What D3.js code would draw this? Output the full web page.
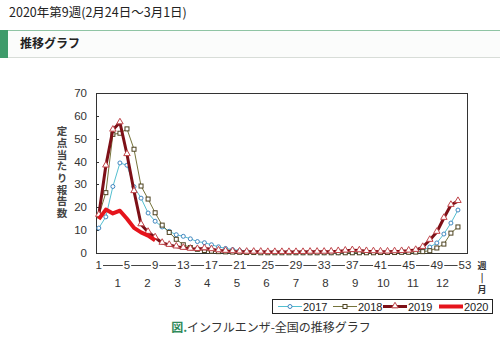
<!DOCTYPE html>
<html>
<head>
<meta charset="utf-8">
<script src="https://cdn.jsdelivr.net/npm/d3@7"></script>
<style>
  body { margin: 0; background: #fff; }
  svg { display: block; }
  text { font-family: "Liberation Sans", Arial, sans-serif; }
  .jp { font-family: "Noto Sans CJK JP", sans-serif; }
</style>
</head>
<body>
<div id="chart"></div>
<script>
// weekly values per year (index 0 = week 1)
var s2017 = [10.9, 15.8, 29.1, 39.4, 38.4, 29.0, 24.0, 17.5, 13.9, 11.4,
             9.5, 8.0, 7.3, 6.2, 5.0, 4.5, 3.6, 2.7, 2.0, 1.5,
             1.1, 0.8, 0.6, 0.4, 0.3, 0.2, 0.2, 0.2, 0.1, 0.1,
             0.1, 0.1, 0.1, 0.1, 0.1, 0.2, 0.2, 0.2, 0.3, 0.3,
             0.3, 0.3, 0.3, 0.4, 0.6, 0.7, 1.0, 2.6, 4.4, 8.3,
             13.1, 18.8]
var s2018 = [16.3, 26.4, 51.9, 52.4, 54.3, 45.4, 29.3, 23.6, 17.6, 12.2,
             9.0, 6.0, 3.6, 2.4, 1.6, 1.1, 0.8, 0.6, 0.5, 0.4,
             0.3, 0.2, 0.2, 0.1, 0.1, 0.1, 0.1, 0.1, 0.1, 0.1,
             0.1, 0.1, 0.1, 0.1, 0.1, 0.1, 0.1, 0.1, 0.1, 0.1,
             0.2, 0.2, 0.2, 0.3, 0.3, 0.4, 0.6, 1.0, 2.2, 3.9,
             8.7, 11.4]
var s2019 = [16.6, 38.2, 53.9, 57.1, 43.2, 27.0, 12.5, 9.2, 6.8, 4.4,
             3.5, 2.8, 2.2, 1.8, 1.7, 2.0, 1.6, 1.1, 0.9, 0.7,
             0.6, 0.5, 0.5, 0.5, 0.4, 0.4, 0.4, 0.4, 0.4, 0.4,
             0.5, 0.5, 0.5, 0.6, 0.8, 1.0, 1.2, 1.1, 0.8, 0.7,
             0.6, 0.6, 0.7, 0.8, 1.0, 1.3, 2.6, 5.7, 9.2, 15.3,
             21.0, 22.7]
var s2020 = [14.8, 19.0, 17.3, 18.5, 15.0, 11.0, 9.0, 7.6, 5.6]

var years = ["2017", "2018", "2019", "2020"]
var weekTicks = [1, 5, 9, 13, 17, 21, 25, 29, 33, 37, 41, 45, 49, 53]
var monthLabels = ["1", "2", "3", "4", "5", "6", "7", "8", "9", "10", "11", "12"]
var monthWeek = [3.7, 7.9, 12.2, 16.4, 20.6, 24.8, 29.0, 33.2, 37.4, 41.4, 45.6, 49.8]
var yTicks = [0, 10, 20, 30, 40, 50, 60, 70]

var width = 500, height = 340

var svg = d3.select('#chart')
    .append('svg')
    .attr('width', width)
    .attr('height', height)

// header
svg.append('text')
    .attr('class', 'jp')
    .attr('x', 9).attr('y', 17)
    .style('font-size', '12.5px')
    .attr('fill', '#222')
    .text('2020年第9週(2月24日～3月1日)')

svg.append('rect')
    .attr('x', 0).attr('y', 30).attr('width', width).attr('height', 27)
    .attr('fill', '#fbfcfb')
svg.append('line')
    .attr('x1', 0).attr('x2', width).attr('y1', 30.5).attr('y2', 30.5)
    .attr('stroke', '#8fc4a4')
svg.append('line')
    .attr('x1', 0).attr('x2', width).attr('y1', 57.5).attr('y2', 57.5)
    .attr('stroke', '#d8ddd8')
svg.append('rect')
    .attr('x', 0).attr('y', 30).attr('width', 8).attr('height', 28)
    .attr('fill', '#3f9b6b')
svg.append('text')
    .attr('class', 'jp')
    .attr('x', 20).attr('y', 48)
    .style('font-size', '12px')
    .style('font-weight', 'bold')
    .attr('fill', '#222')
    .text('推移グラフ')

// scales
var x = d3.scaleLinear().domain([1, 53]).range([98.8, 465])
var y = d3.scaleLinear().domain([0, 70]).range([253, 93])
var left = 96, right = 467

// frame
svg.append('rect')
    .attr('x', left + 0.5).attr('y', y(70) + 0.5)
    .attr('width', right - left).attr('height', y(0) - y(70))
    .attr('fill', 'none')
    .attr('stroke', '#333')

// y ticks + labels
svg.selectAll('.ytick')
    .data(yTicks)
    .enter()
    .append('line')
    .attr('x1', left).attr('x2', left + 3)
    .attr('y1', function(d) { return Math.round(y(d)) + 0.5 })
    .attr('y2', function(d) { return Math.round(y(d)) + 0.5 })
    .attr('stroke', '#333')

svg.selectAll('.ylab')
    .data(yTicks)
    .enter()
    .append('text')
    .attr('x', 87)
    .attr('y', function(d) { return y(d) + 4 })
    .attr('text-anchor', 'end')
    .style('font-size', '11.5px')
    .attr('fill', '#333')
    .text(function(d) { return d })

// y title, vertical
svg.append('text')
    .attr('class', 'jp')
    .attr('x', 62).attr('y', 126)
    .style('writing-mode', 'vertical-rl')
    .style('font-size', '10.5px')
    .style('letter-spacing', '1.2px')
    .style('font-weight', 'bold')
    .attr('fill', '#444')
    .text('定点当たり報告数')

// week labels with dashes between them
var wk = svg.append('g')
var wkText = wk.selectAll('text')
    .data(weekTicks)
    .enter()
    .append('text')
    .attr('x', function(d) { return x(d) })
    .attr('y', 269)
    .attr('text-anchor', 'middle')
    .style('font-size', '11.5px')
    .attr('fill', '#333')
    .text(function(d) { return d })

var widths = []
wkText.each(function() { widths.push(this.getComputedTextLength()) })
for (var i = 0; i < weekTicks.length - 1; i++) {
    wk.append('line')
        .attr('x1', x(weekTicks[i]) + widths[i] / 2 + 1)
        .attr('x2', x(weekTicks[i + 1]) - widths[i + 1] / 2 - 1)
        .attr('y1', 265.5).attr('y2', 265.5)
        .attr('stroke', '#444')
}

// month labels
svg.selectAll('.mlab')
    .data(monthLabels)
    .enter()
    .append('text')
    .attr('x', function(d, i) { return x(monthWeek[i]) })
    .attr('y', 287)
    .attr('text-anchor', 'middle')
    .style('font-size', '11.5px')
    .attr('fill', '#333')
    .text(function(d) { return d })

// 週/月
svg.selectAll('.wm')
    .data(['週', '|', '月'])
    .enter()
    .append('text')
    .attr('class', 'jp')
    .attr('x', 482)
    .attr('y', function(d, i) { return 269 + i * 12 })
    .attr('text-anchor', 'middle')
    .style('font-size', '9px')
    .style('font-weight', 'bold')
    .attr('fill', '#333')
    .text(function(d) { return d })

// series styles
var styles = {
    '2017': { data: s2017, line: '#54bfd0', width: 1, marker: 'circle', mstroke: '#3f86bf' },
    '2018': { data: s2018, line: '#75733a', width: 1, marker: 'square', mstroke: '#4d4220' },
    '2019': { data: s2019, line: '#7d1017', width: 3, marker: 'triangle', mstroke: '#c0454a' },
    '2020': { data: s2020, line: '#e5141c', width: 4, marker: null }
}

var line = d3.line()
    .x(function(d, i) { return x(i + 1) })
    .y(function(d) { return y(d) })

function drawMarker(g, type, stroke, cx, cy) {
    if (type === 'circle') {
        g.append('circle').attr('cx', cx).attr('cy', cy).attr('r', 2)
            .attr('fill', '#fff').attr('stroke', stroke).attr('stroke-width', 1)
    } else if (type === 'square') {
        g.append('rect').attr('x', cx - 2).attr('y', cy - 2).attr('width', 4).attr('height', 4)
            .attr('fill', '#fff').attr('stroke', stroke).attr('stroke-width', 1)
    } else if (type === 'triangle') {
        g.append('path')
            .attr('d', d3.symbol().type(d3.symbolTriangle).size(18)())
            .attr('transform', 'translate(' + cx + ',' + (cy - 0.5) + ')')
            .attr('fill', '#fff').attr('stroke', stroke).attr('stroke-width', 1)
    }
}

years.forEach(function(yr) {
    var s = styles[yr]
    var g = svg.append('g')
    g.append('path')
        .datum(s.data)
        .attr('d', line)
        .attr('fill', 'none')
        .attr('stroke', s.line)
        .attr('stroke-width', s.width)
        .attr('stroke-linejoin', 'round')
    if (s.marker) {
        s.data.forEach(function(v, i) {
            drawMarker(g, s.marker, s.mstroke, x(i + 1), y(v))
        })
    }
})

// legend
var lg = svg.append('g')
lg.append('rect')
    .attr('x', 272.5).attr('y', 299.5).attr('width', 220).attr('height', 14)
    .attr('fill', '#fff').attr('stroke', '#222')
var legendX = [278, 333, 383, 439]
years.forEach(function(yr, i) {
    var s = styles[yr]
    var lx = legendX[i]
    lg.append('line')
        .attr('x1', lx).attr('x2', lx + 24)
        .attr('y1', 306.5).attr('y2', 306.5)
        .attr('stroke', s.line).attr('stroke-width', s.width)
    if (s.marker) drawMarker(lg, s.marker, s.mstroke, lx + 12, 306.5)
    lg.append('text')
        .attr('x', lx + 25).attr('y', 310.5)
        .style('font-size', '11px')
        .attr('fill', '#222')
        .text(yr)
})

// caption
var cap = svg.append('text')
    .attr('class', 'jp')
    .attr('x', 271).attr('y', 332)
    .attr('text-anchor', 'middle')
    .style('font-size', '12px')
cap.append('tspan').attr('fill', '#2f8a5a').style('font-weight', 'bold').text('図.')
cap.append('tspan').attr('fill', '#333').text('インフルエンザ-全国の推移グラフ')
</script>
</body>
</html>
